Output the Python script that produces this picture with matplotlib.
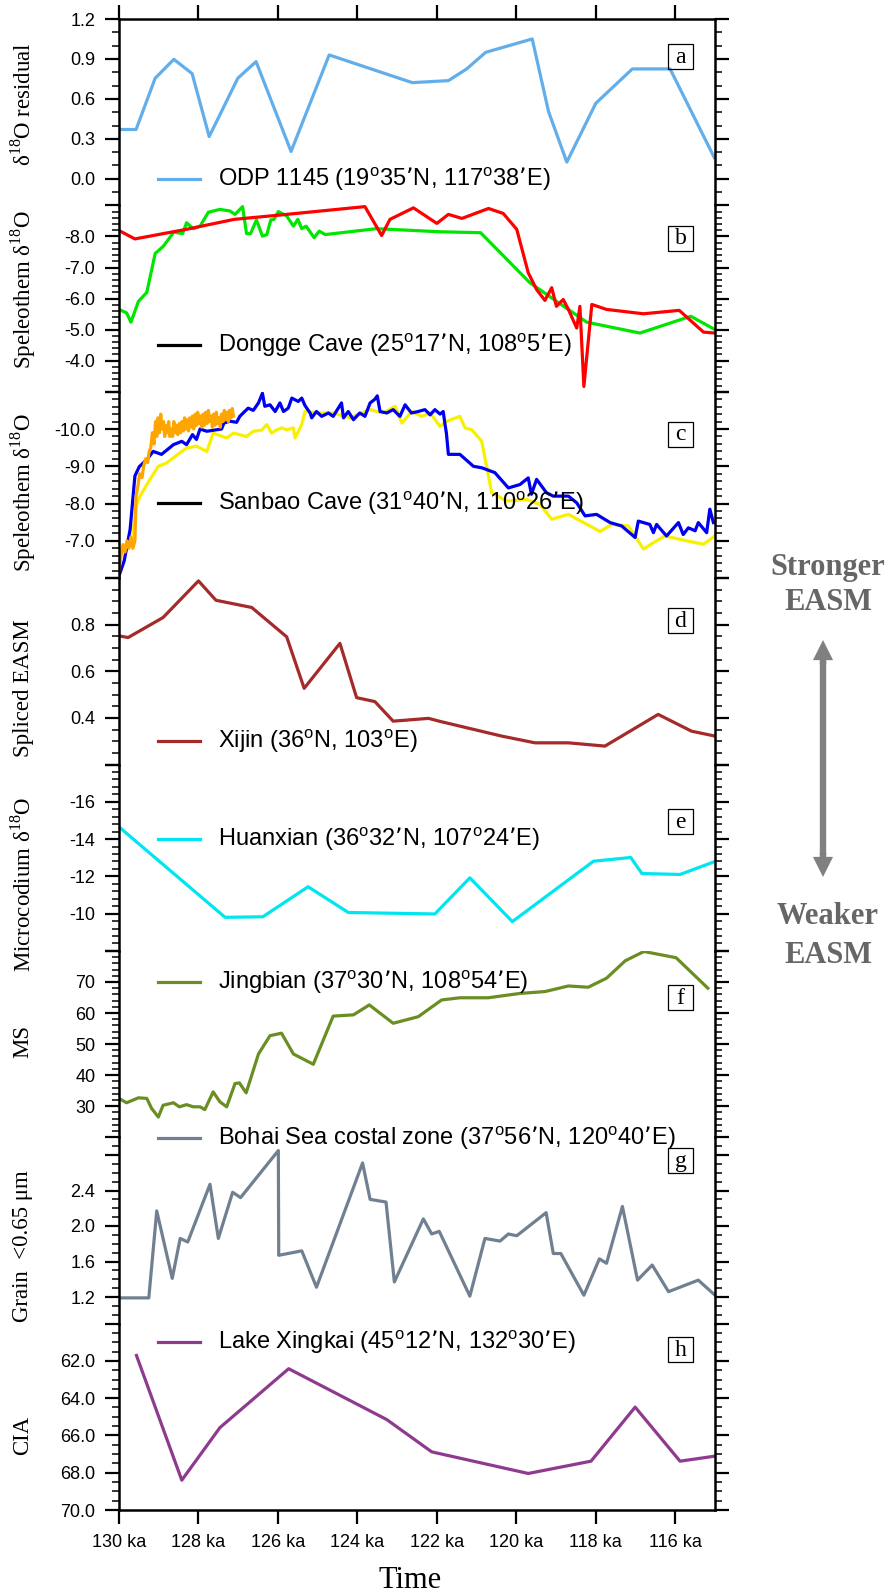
import matplotlib
matplotlib.use('Agg')
import matplotlib.pyplot as plt
from matplotlib.lines import Line2D
from matplotlib.patches import FancyArrowPatch, Rectangle
from matplotlib.ticker import MultipleLocator

# ---------------- data ----------------
odp_age = [130.0, 129.57, 129.09, 128.62, 128.16, 127.73, 127.01, 126.55, 125.67, 124.71,
           122.62, 121.71, 121.25, 120.77, 119.60, 119.19, 118.73, 118.0, 117.08, 116.13, 115.02]
odp_val = [0.37, 0.37, 0.755, 0.897, 0.79, 0.317, 0.755, 0.88, 0.205, 0.93,
           0.722, 0.737, 0.825, 0.95, 1.05, 0.505, 0.125, 0.567, 0.825, 0.825, 0.16]

dongge_red_age = [130.0, 129.6, 128.3, 127.1, 125.78, 123.81, 123.39, 123.18, 122.59, 122.0,
                  121.71, 121.37, 120.70, 120.33, 119.99, 119.70, 119.49, 119.28, 119.11, 118.99,
                  118.82, 118.69, 118.48, 118.40, 118.30, 118.10, 117.73, 116.80, 115.90, 115.29, 115.0]
dongge_red_val = [-8.19, -7.92, -8.23, -8.55, -8.71, -8.96, -8.03, -8.55, -8.92, -8.42,
                  -8.71, -8.58, -8.90, -8.74, -8.23, -6.83, -6.29, -5.94, -6.35, -5.75,
                  -5.97, -5.65, -5.05, -5.75, -3.17, -5.81, -5.65, -5.51, -5.62, -4.92, -4.89]

dongge_green_age = [130.0, 129.81, 129.7, 129.51, 129.30, 129.09, 128.88, 128.62, 128.40, 128.30,
                    128.13, 127.96, 127.75, 127.46, 127.21, 127.08, 126.89, 126.79, 126.69, 126.54,
                    126.39, 126.28, 126.18, 126.10, 125.99, 125.78, 125.61, 125.50, 125.40, 125.29,
                    125.09, 124.96, 124.81, 123.52, 121.92, 120.90, 119.66, 118.23, 116.89, 115.61, 115.0]
dongge_green_val = [-5.65, -5.54, -5.24, -5.91, -6.2, -7.45, -7.69, -8.14, -8.09, -8.44,
                    -8.25, -8.33, -8.78, -8.87, -8.82, -8.71, -8.96, -8.09, -8.09, -8.53,
                    -8.01, -8.06, -8.53, -8.55, -8.80, -8.66, -8.33, -8.55, -8.25, -8.33,
                    -7.96, -8.17, -8.06, -8.25, -8.15, -8.12, -6.51, -5.24, -4.89, -5.43, -5.0]

sanbao_blue_age = [130.0, 129.87, 129.72, 129.60, 129.49, 129.30, 129.14, 128.93, 128.63, 128.42,
                   128.30, 128.15, 128.05, 127.96, 127.79, 127.42, 127.36, 127.21, 127.04, 126.96,
                   126.75, 126.62, 126.49, 126.39, 126.33, 126.20, 126.07, 125.95, 125.86, 125.74,
                   125.65, 125.49, 125.40, 125.32, 125.19, 125.15, 125.03, 124.90, 124.73, 124.61,
                   124.40, 124.35, 124.23, 124.10, 123.94, 123.81, 123.68, 123.56, 123.50, 123.43,
                   123.26, 123.10, 122.93, 122.80, 122.64, 122.47, 122.30, 122.17, 122.05, 121.92,
                   121.84, 121.80, 121.76, 121.71, 121.42, 121.08, 120.87, 120.54, 120.20, 119.91,
                   119.70, 119.62, 119.49, 119.24, 119.07, 118.69, 118.48, 118.27, 117.98, 117.64,
                   117.35, 117.01, 116.93, 116.64, 116.55, 116.47, 116.22, 115.92, 115.80, 115.67,
                   115.50, 115.42, 115.21, 115.13, 115.04]
sanbao_blue_val = [-6.06, -6.46, -7.31, -8.74, -8.99, -9.18, -9.40, -9.32, -9.58, -9.67,
                   -9.58, -9.85, -9.72, -10.0, -9.94, -10.0, -10.16, -10.21, -10.18, -10.34,
                   -10.56, -10.50, -10.70, -10.96, -10.61, -10.65, -10.47, -10.70, -10.47, -10.56,
                   -10.83, -10.74, -10.83, -10.63, -10.43, -10.30, -10.47, -10.34, -10.43, -10.34,
                   -10.70, -10.30, -10.47, -10.25, -10.43, -10.34, -10.70, -10.80, -10.89, -10.47,
                   -10.43, -10.52, -10.34, -10.65, -10.43, -10.47, -10.52, -10.38, -10.52, -10.40,
                   -10.47, -10.16, -9.89, -9.32, -9.32, -9.0, -8.96, -8.83, -8.42, -8.51,
                   -8.69, -8.25, -8.65, -8.29, -8.20, -8.20, -8.02, -7.67, -7.71, -7.49,
                   -7.40, -7.09, -7.53, -7.44, -7.22, -7.44, -7.13, -7.49, -7.17, -7.35,
                   -7.27, -7.49, -7.22, -7.85, -7.49]

sanbao_yellow_age = [130.0, 129.89, 129.68, 129.57, 129.47, 129.22, 129.01, 128.80, 128.47, 128.30,
                     128.05, 127.79, 127.63, 127.29, 127.12, 126.79, 126.62, 126.41, 126.28, 126.16,
                     126.03, 125.90, 125.78, 125.61, 125.57, 125.40, 125.32, 124.94, 124.61, 124.19,
                     123.68, 123.35, 123.05, 122.88, 122.63, 122.38, 122.17, 121.92, 121.75, 121.42,
                     121.29, 121.12, 120.87, 120.62, 120.24, 119.74, 119.41, 119.11, 118.69, 117.89,
                     117.60, 117.18, 116.80, 116.55, 116.26, 115.71, 115.29, 115.0]
sanbao_yellow_val = [-6.78, -6.73, -6.91, -7.93, -8.20, -8.65, -9.0, -9.09, -9.36, -9.49,
                     -9.54, -9.40, -9.89, -9.76, -9.89, -9.80, -9.94, -9.97, -10.12, -9.89,
                     -9.98, -10.03, -9.98, -10.03, -9.76, -10.12, -10.47, -10.43, -10.43, -10.30,
                     -10.52, -10.43, -10.61, -10.16, -10.47, -10.34, -10.43, -10.07, -10.21, -10.34,
                     -10.03, -9.98, -9.67, -8.29, -8.07, -8.11, -7.98, -7.58, -7.71, -7.25,
                     -7.44, -7.40, -6.78, -6.95, -7.13, -7.00, -6.91, -7.13]

sanbao_orange_age = [130.0, 129.95, 129.9, 129.85, 129.8, 129.75, 129.7, 129.65, 129.6, 129.57,
                     129.52, 129.48, 129.42, 129.38, 129.33, 129.28, 129.24, 129.2, 129.16, 129.12,
                     129.08, 129.05, 129.02, 128.98, 128.95, 128.92, 128.88, 128.85, 128.82, 128.78,
                     128.75, 128.72, 128.68, 128.65, 128.62, 128.58, 128.55, 128.52, 128.48, 128.45,
                     128.42, 128.38, 128.35, 128.32, 128.28, 128.25, 128.22, 128.18, 128.15, 128.12,
                     128.08, 128.05, 128.02, 127.98, 127.95, 127.92, 127.88, 127.85, 127.82, 127.78,
                     127.75, 127.72, 127.68, 127.65, 127.62, 127.58, 127.55, 127.52, 127.48, 127.45,
                     127.42, 127.38, 127.35, 127.32, 127.28, 127.25, 127.22, 127.18, 127.15, 127.12]
sanbao_orange_val = [-6.2, -6.6, -6.9, -6.7, -7.0, -6.8, -7.1, -6.8, -7.0, -8.2,
                     -8.5, -8.8, -8.7, -9.0, -9.2, -9.1, -9.4, -9.5, -9.9, -9.6,
                     -10.2, -9.8, -10.3, -9.9, -10.4, -10.0, -10.2, -9.8, -10.1, -9.9,
                     -10.2, -9.8, -10.0, -9.8, -10.2, -9.9, -10.1, -9.85, -10.15, -9.9,
                     -10.2, -9.95, -10.3, -10.0, -10.25, -9.95, -10.3, -10.05, -10.35, -10.0,
                     -10.4, -10.1, -10.45, -10.15, -10.35, -10.05, -10.4, -10.1, -10.45, -10.15,
                     -10.5, -10.2, -10.35, -10.05, -10.4, -10.1, -10.45, -10.15, -10.3, -10.05,
                     -10.4, -10.2, -10.5, -10.25, -10.45, -10.2, -10.5, -10.3, -10.55, -10.35]

xijin_age = [130.0, 129.77, 128.89, 128.0, 127.56, 126.66, 125.78, 125.34, 124.44, 124.02,
             123.56, 123.10, 122.21, 121.92, 120.37, 119.53, 118.69, 117.77, 116.43, 115.59, 115.0]
xijin_val = [0.752, 0.745, 0.831, 0.988, 0.905, 0.874, 0.748, 0.527, 0.72, 0.487,
             0.47, 0.386, 0.398, 0.385, 0.322, 0.293, 0.293, 0.279, 0.415, 0.343, 0.322]

huanxian_age = [130.0, 127.33, 126.38, 125.24, 124.23, 122.05, 121.17, 120.10, 118.06, 117.12,
                116.84, 115.88, 115.02]
huanxian_val = [-14.65, -9.80, -9.83, -11.44, -10.06, -9.98, -11.92, -9.57, -12.81, -13.01,
                -12.15, -12.10, -12.78]

jingbian_age = [130.0, 129.81, 129.51, 129.30, 129.18, 129.01, 128.89, 128.63, 128.48, 128.30,
                128.13, 127.96, 127.84, 127.63, 127.46, 127.29, 127.08, 126.97, 126.80, 126.49,
                126.20, 125.91, 125.61, 125.11, 124.61, 124.10, 123.70, 123.10, 122.47, 121.88,
                121.42, 120.71, 119.91, 119.28, 118.69, 118.19, 117.73, 117.26, 116.79, 115.98, 115.18]
jingbian_val = [32.5, 31.1, 32.7, 32.5, 29.3, 26.5, 30.3, 31.1, 29.8, 30.5,
                29.8, 29.8, 28.9, 34.6, 31.4, 29.8, 37.3, 37.5, 34.3, 46.8,
                52.7, 53.5, 46.8, 43.5, 59.0, 59.4, 62.6, 56.7, 58.8, 64.2,
                64.9, 64.9, 66.3, 66.9, 68.7, 68.3, 71.2, 76.8, 79.8, 77.8, 68.0]

bohai_age = [130.0, 129.25, 129.05, 128.66, 128.46, 128.27, 127.71, 127.50, 127.14, 126.94,
             125.99, 125.98, 125.40, 125.03, 123.87, 123.68, 123.28, 123.07, 122.34, 122.13,
             121.94, 121.17, 120.79, 120.41, 120.20, 119.99, 119.25, 119.07, 118.88, 118.30,
             117.91, 117.73, 117.33, 116.95, 116.58, 116.17, 115.42, 115.0]
bohai_val = [1.19, 1.19, 2.17, 1.41, 1.86, 1.82, 2.47, 1.86, 2.38, 2.32,
             2.85, 1.67, 1.72, 1.31, 2.71, 2.30, 2.27, 1.37, 2.08, 1.91,
             1.94, 1.21, 1.86, 1.83, 1.91, 1.89, 2.15, 1.69, 1.69, 1.22,
             1.63, 1.58, 2.22, 1.39, 1.56, 1.26, 1.39, 1.22]

xingkai_age = [129.56, 128.42, 127.46, 125.73, 123.26, 122.13, 119.70, 118.12, 117.01, 115.88, 115.0]
xingkai_val = [61.71, 68.40, 65.58, 62.42, 65.15, 66.88, 68.04, 67.38, 64.48, 67.38, 67.11]

x_ticks = [130, 128, 126, 124, 122, 120, 118, 116]
x_ticklabels = ['130 ka', '128 ka', '126 ka', '124 ka', '122 ka', '120 ka', '118 ka', '116 ka']

# ---------------- layout ----------------
W, H = 889, 1596
DPI = 100
plt.rcParams['font.family'] = ['Liberation Sans', 'DejaVu Sans']
fig = plt.figure(figsize=(W / DPI, H / DPI), dpi=DPI)

def fx(px):
    return px / W

def fy(py):
    return 1 - py / H

LEFT, RIGHT, TOP, BOTTOM = 119, 715, 19, 1510
PH = (BOTTOM - TOP) / 8.0

SERIF = ['Liberation Serif', 'DejaVu Serif']

panels = [
    dict(ylim=(-0.2, 1.2), ticks=[0.0, 0.3, 0.6, 0.9, 1.2],
         labels=['0.0', '0.3', '0.6', '0.9', '1.2'], minor=0.1,
         ylabel='δ$^{\\mathregular{18}}$O residual', ly=104,
         legend='ODP 1145 (19$^{\\mathregular{o}}$35’N, 117$^{\\mathregular{o}}$38’E)',
         lcolor='#62AEEA', legy=179, letter='a', boxy=56.5),
    dict(ylim=(-3, -9), ticks=[-9, -8, -7, -6, -5, -4, -3],
         labels=['', '-8.0', '-7.0', '-6.0', '-5.0', '-4.0', ''], minor=0.2,
         ylabel='Speleothem δ$^{\\mathregular{18}}$O', ly=290,
         legend='Dongge Cave (25$^{\\mathregular{o}}$17’N, 108$^{\\mathregular{o}}$5’E)',
         lcolor='black', legy=345, letter='b', boxy=238),
    dict(ylim=(-6, -11), ticks=[-11, -10, -9, -8, -7, -6],
         labels=['', '-10.0', '-9.0', '-8.0', '-7.0', ''], minor=0.2,
         ylabel='Speleothem δ$^{\\mathregular{18}}$O', ly=493,
         legend='Sanbao Cave (31$^{\\mathregular{o}}$40’N, 110$^{\\mathregular{o}}$26’E)',
         lcolor='black', legy=503, letter='c', boxy=434),
    dict(ylim=(0.2, 1.0), ticks=[0.2, 0.4, 0.6, 0.8, 1.0],
         labels=['', '0.4', '0.6', '0.8', ''], minor=0.05,
         ylabel='Spliced EASM', ly=688,
         legend='Xijin (36$^{\\mathregular{o}}$N, 103$^{\\mathregular{o}}$E)',
         lcolor='#A52A2A', legy=741, letter='d', boxy=620.5),
    dict(ylim=(-8, -18), ticks=[-18, -16, -14, -12, -10, -8],
         labels=['', '-16', '-14', '-12', '-10', ''], minor=0.4,
         ylabel='Microcodium δ$^{\\mathregular{18}}$O', ly=884,
         legend='Huanxian (36$^{\\mathregular{o}}$32’N, 107$^{\\mathregular{o}}$24’E)',
         lcolor='#00E6F0', legy=839, letter='e', boxy=821.5),
    dict(ylim=(20, 80), ticks=[20, 30, 40, 50, 60, 70, 80],
         labels=['', '30', '40', '50', '60', '70', ''], minor=2,
         ylabel='MS', ly=1041,
         legend='Jingbian (37$^{\\mathregular{o}}$30’N, 108$^{\\mathregular{o}}$54’E)',
         lcolor='#6B8E23', legy=982, letter='f', boxy=997.5),
    dict(ylim=(0.9, 3.0), ticks=[1.2, 1.6, 2.0, 2.4, 2.8],
         labels=['1.2', '1.6', '2.0', '2.4', ''], minor=0.1,
         ylabel='Grain  <0.65 μm', ly=1246,
         legend='Bohai Sea costal zone (37$^{\\mathregular{o}}$56’N, 120$^{\\mathregular{o}}$40’E)',
         lcolor='#708090', legy=1138, letter='g', boxy=1160.5),
    dict(ylim=(70, 60), ticks=[60, 62, 64, 66, 68, 70],
         labels=['', '62.0', '64.0', '66.0', '68.0', '70.0'], minor=0.5,
         ylabel='CIA', ly=1435,
         legend='Lake Xingkai (45$^{\\mathregular{o}}$12’N, 132$^{\\mathregular{o}}$30’E)',
         lcolor='#8E3A8E', legy=1342, letter='h', boxy=1349.5),
]

LW = 2.3
TICKFS = 13
axes = []
for i, p in enumerate(panels):
    top = TOP + i * PH
    ax = fig.add_axes([fx(LEFT), fy(top + PH), fx(RIGHT - LEFT), PH / H])
    ax.patch.set_alpha(0)
    ax.set_xlim(130, 115)
    ax.set_ylim(*p['ylim'])
    for s in ['left', 'right', 'top', 'bottom']:
        ax.spines[s].set_linewidth(1.8)
    ax.spines['top'].set_visible(i == 0)
    ax.spines['bottom'].set_visible(i == 7)
    ax.set_yticks(p['ticks'])
    ax.set_yticklabels(p['labels'])
    ax.yaxis.set_minor_locator(MultipleLocator(p['minor']))
    ax.tick_params(axis='y', which='major', left=True, right=True, direction='out',
                   length=10, width=1.6, labelsize=TICKFS, pad=7)
    ax.tick_params(axis='y', which='minor', left=True, right=True, direction='out',
                   length=5, width=1.1)
    ax.set_xticks(x_ticks)
    if i == 0:
        ax.tick_params(axis='x', which='major', top=True, bottom=False, labeltop=False,
                       labelbottom=False, direction='out', length=10, width=1.6)
    elif i == 7:
        ax.set_xticklabels(x_ticklabels)
        ax.tick_params(axis='x', which='major', top=False, bottom=True, direction='out',
                       length=10, width=1.6, labelsize=TICKFS, pad=7)
    else:
        ax.tick_params(axis='x', which='both', top=False, bottom=False,
                       labelbottom=False, labeltop=False)
    axes.append(ax)

ax_a, ax_b, ax_c, ax_d, ax_e, ax_f, ax_g, ax_h = axes
ax_a.plot(odp_age, odp_val, color='#62AEEA', lw=LW)
ax_b.plot(dongge_green_age, dongge_green_val, color='#00E600', lw=LW)
ax_b.plot(dongge_red_age, dongge_red_val, color='#FF0000', lw=LW)
ax_c.plot(sanbao_yellow_age, sanbao_yellow_val, color='#F8F000', lw=LW)
ax_c.plot(sanbao_blue_age, sanbao_blue_val, color='#0000F0', lw=LW)
ax_c.plot(sanbao_orange_age, sanbao_orange_val, color='#FFA500', lw=LW)
ax_d.plot(xijin_age, xijin_val, color='#A52A2A', lw=LW)
ax_e.plot(huanxian_age, huanxian_val, color='#00E6F0', lw=LW)
ax_f.plot(jingbian_age, jingbian_val, color='#6B8E23', lw=LW)
ax_g.plot(bohai_age, bohai_val, color='#708090', lw=LW)
ax_h.plot(xingkai_age, xingkai_val, color='#8E3A8E', lw=LW)

# legends, y labels, panel letters
for p in panels:
    fig.add_artist(Line2D([fx(158), fx(200)], [fy(p['legy']), fy(p['legy'])],
                          transform=fig.transFigure, color=p['lcolor'], lw=LW))
    fig.text(fx(218), fy(p['legy']), p['legend'], fontsize=17, va='center', ha='left')
    fig.text(fx(23), fy(p['ly']), p['ylabel'], fontsize=16.5, family=SERIF,
             rotation=90, va='center', ha='center')
    fig.add_artist(Rectangle((fx(668), fy(p['boxy'] + 12.5)), fx(25), 25 / H,
                             transform=fig.transFigure, fill=False, ec='black', lw=0.9))
    fig.text(fx(680.5), fy(p['boxy'] + 1), p['letter'], fontsize=17, family=SERIF,
             va='center', ha='center')

# x axis title
fig.text(fx(410), fy(1580), 'Time', fontsize=22, family=SERIF, ha='center', va='center')

# EASM annotation
grey_txt = '#666666'
for txt, ypx in (('Stronger', 567), ('EASM', 602), ('Weaker', 917), ('EASM', 955)):
    fig.text(fx(828), fy(ypx), txt, fontsize=22, family=SERIF, weight='bold',
             color=grey_txt, ha='center', va='center')

ARROW_X, ARROW_TOP, ARROW_BOT = 823, 640, 877
HEAD = 20  # px
fig.add_artist(Line2D([fx(ARROW_X), fx(ARROW_X)],
                      [fy(ARROW_TOP + HEAD + 2), fy(ARROW_BOT - HEAD - 2)],
                      transform=fig.transFigure, color='#808080', lw=4.6,
                      solid_capstyle='butt'))
for end, start in ((ARROW_TOP, ARROW_TOP + HEAD + 4), (ARROW_BOT, ARROW_BOT - HEAD - 4)):
    fig.add_artist(FancyArrowPatch((fx(ARROW_X), fy(start)), (fx(ARROW_X), fy(end)),
                                   transform=fig.transFigure,
                                   arrowstyle='simple,head_length=1.0,head_width=1.0,tail_width=0.32',
                                   mutation_scale=14.5, color='#808080', lw=0,
                                   shrinkA=0, shrinkB=0))

fig.savefig('out.png', dpi=DPI)
